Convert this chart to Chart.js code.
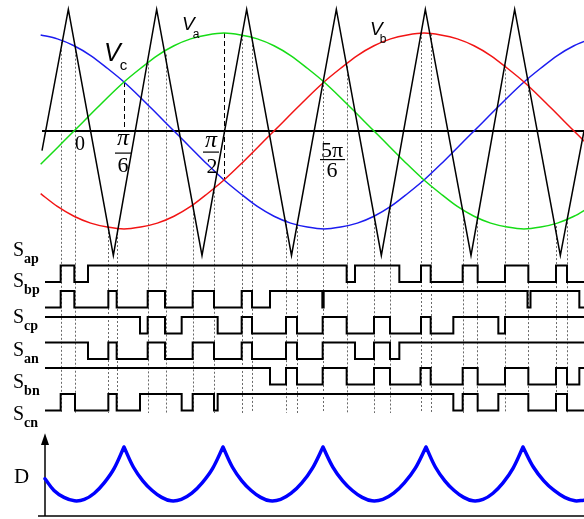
<!DOCTYPE html>
<html><head><meta charset="utf-8">
<script src="https://cdn.jsdelivr.net/npm/chart.js@4/dist/chart.umd.min.js"></script>
<style>html,body{margin:0;padding:0;background:#fff;overflow:hidden}</style>
</head><body>
<canvas id="c" width="584" height="519"></canvas>
<script>
// ---- data (angles in electrical degrees, theta = 0 at the "0" mark) ----
const thetaDeg = [-20,-10,0,10,20,30,40,50,60,70,80,90,100,110,120,130,140,150,160,170,180,190,200,210,220,230,240,250,260,270,280,290,300,310];
const va = [-0.34,-0.17,0,0.17,0.34,0.5,0.64,0.77,0.87,0.94,0.98,1,0.98,0.94,0.87,0.77,0.64,0.5,0.34,0.17,0,-0.17,-0.34,-0.5,-0.64,-0.77,-0.87,-0.94,-0.98,-1,-0.98,-0.94,-0.87,-0.77];
const vb = [-0.64,-0.77,-0.87,-0.94,-0.98,-1,-0.98,-0.94,-0.87,-0.77,-0.64,-0.5,-0.34,-0.17,0,0.17,0.34,0.5,0.64,0.77,0.87,0.94,0.98,1,0.98,0.94,0.87,0.77,0.64,0.5,0.34,0.17,0,-0.17];
const vc = [0.98,0.94,0.87,0.77,0.64,0.5,0.34,0.17,0,-0.17,-0.34,-0.5,-0.64,-0.77,-0.87,-0.94,-0.98,-1,-0.98,-0.94,-0.87,-0.77,-0.64,-0.5,-0.34,-0.17,0,0.17,0.34,0.5,0.64,0.77,0.87,0.94];

const carrierDeg = [-19.2,-3.4,23.6,49.6,76.8,103.6,130.5,157.4,184.4,210.8,238.2,264.4,291.8,306.0];
const carrierVal = [-0.2,1.24,-1.27,1.24,-1.27,1.24,-1.27,1.24,-1.27,1.24,-1.27,1.24,-1.27,0.0];

// dotted projection lines: angle and the curve value where they start
const guideDeg = [-8.0,0.6,20.6,25.6,44.2,55.0,71.2,84.0,100.6,106.6,127.2,133.8,149.2,163.6,180.2,189.6,208.2,214.0,233.2,242.0,258.6,272.6,289.2,296.0];
const guideTop = [0.91,0.86,-0.99,-1.0,0.69,0.78,-0.76,-0.62,0.98,0.96,-0.91,-0.98,0.51,0.66,-0.9,-0.74,1.0,0.99,-0.82,-0.89,0.67,0.54,-0.97,-0.89];

// dashed marks at pi/6 and pi/2
const markDeg = [30, 90];
const markFrom = [0.5, 1.0];
const markTo = [0, -0.5];

// switching signals: initial level and toggle angles
const signalNames = ['ap','bp','cp','an','bn','cn'];
const signalStart = [0,0,1,1,1,0];
const sapToggles = [-8.0,0.2,8.4,163.6,168.6,195.2,208.2,214.0,233.2,242.2,258.6,272.6,289.2,295.8];
const sbpToggles = [-8.0,0.2,20.6,25.6,44.2,54.6,71.2,84.0,100.6,106.8,117.6,149.0,149.8,272.1,273.9,303.2];
const scpToggles = [39.6,44.2,54.6,64.6,86.2,100.6,106.8,127.2,133.8,149.2,163.6,180.0,189.6,208.2,214.0,227.6,254.6,258.6];
const sanToggles = [8.4,20.6,25.6,44.2,54.6,71.2,84.0,100.6,106.8,127.2,133.8,149.2,168.6,180.0,189.6,195.2];
const sbnToggles = [117.6,127.2,133.8,149.2,163.6,180.0,189.6,207.9,214.0,233.2,242.2,258.6,272.6,289.2,295.8,303.2];
const scnToggles = [-8.0,0.6,20.6,25.6,39.6,64.6,71.2,84.0,86.2,227.6,233.2,242.2,254.6,272.6,289.2,295.8];
const signalToggles = [sapToggles,sbpToggles,scpToggles,sanToggles,sbnToggles,scnToggles];
const signalFrom = -17.4, signalTo = 306;

// D curve (null splits the curve at the cusps)
const dDeg = [-17.4,-12.0,-6.0,0.3,6.2,12.2,18.1,24.1,30.0, 30.0, 30.0,35.6,41.3,46.9,52.6,58.2,64.4,70.7,76.9,83.2,89.4, 89.4, 89.4,95.0,100.7,106.3,112.0,117.6,124.0,130.3,136.7,143.0,149.4, 149.4, 149.4,155.3,161.2,167.0,172.9,178.8,185.3,191.8,198.2,204.7,211.2, 211.2, 211.2,216.8,222.5,228.1,233.8,239.4,245.4,251.4,257.4,263.4,269.4, 269.4, 269.4,275.6,281.9,288.1,294.4,300.6,306.0];
const dVal = [0.54,0.37,0.27,0.22,0.24,0.33,0.48,0.69,1.0, null, 1.0,0.71,0.51,0.37,0.27,0.22,0.24,0.33,0.48,0.69,1.0, null, 1.0,0.71,0.51,0.37,0.27,0.22,0.24,0.33,0.48,0.69,1.0, null, 1.0,0.71,0.51,0.37,0.27,0.22,0.24,0.33,0.48,0.69,1.0, null, 1.0,0.71,0.51,0.37,0.27,0.22,0.24,0.33,0.48,0.69,1.0, null, 1.0,0.71,0.51,0.37,0.27,0.22,0.23];

// ---- layout helpers ----
const H = 519;
function band(zeroPx, unitPx){ return {type:'linear', display:false, bounds:'data', min:(zeroPx-H)/unitPx, max:zeroPx/unitPx}; }
const sigLow = [282, 307.5, 333.5, 359, 384.5, 410.5];
const sigAxes = ['ySap','ySbp','yScp','ySan','ySbn','yScn'];

const pts = (xs, ys) => xs.map((x,i)=>({x, y: ys[i]}));
function stepData(start, toggles){
  let lv = start; const d = [{x:signalFrom, y:lv}];
  toggles.forEach(t => { lv = 1 - lv; d.push({x:t, y:lv}); });
  d.push({x:signalTo, y:lv});
  return d;
}

const datasets = [
  {data: pts(carrierDeg, carrierVal), yAxisID:'yV', borderColor:'#000', borderWidth:1.5, tension:0},
  {data: pts(thetaDeg, va), yAxisID:'yV', borderColor:'#16dc16', borderWidth:1.5, tension:0.3},
  {data: pts(thetaDeg, vb), yAxisID:'yV', borderColor:'#f21414', borderWidth:1.5, tension:0.3},
  {data: pts(thetaDeg, vc), yAxisID:'yV', borderColor:'#1c1cf0', borderWidth:1.5, tension:0.3},
  {data: pts(dDeg, dVal), yAxisID:'yD', borderColor:'#0000ff', borderWidth:3.5, tension:0.35, spanGaps:false, borderCapStyle:'round', borderJoinStyle:'round'}
];
signalToggles.forEach((tg,i) => datasets.push({data: stepData(signalStart[i], tg), yAxisID: sigAxes[i], borderColor:'#000', borderWidth:2, stepped:true, tension:0}));
datasets.forEach(d => { d.showLine = true; d.pointRadius = 0; d.pointHoverRadius = 0; d.fill = false; });

const scales = { x: {type:'linear', display:false, bounds:'data', min:-44.4, max:306}, yV: band(131, 98), yD: band(516, 69) };
sigAxes.forEach((id,i) => scales[id] = band(sigLow[i], 16.5));

function sub(ctx, main, mainFont, s, subFont, x, y, dx, dy){
  ctx.font = mainFont; ctx.fillText(main, x, y);
  const w = ctx.measureText(main).width;
  ctx.font = subFont; ctx.fillText(s, x + w + dx, y + dy);
}

const decor = {
  id:'decor',
  beforeDatasetsDraw(chart){
    const {ctx, scales:s} = chart;
    ctx.save();
    // projection guides
    ctx.strokeStyle = '#6a6a6a'; ctx.lineWidth = 1; ctx.setLineDash([2,2]);
    const yBottom = s.yScn.getPixelForValue(-0.15);
    guideDeg.forEach((d,i) => {
      const px = Math.round(s.x.getPixelForValue(d)) + 0.5;
      ctx.beginPath(); ctx.moveTo(px, s.yV.getPixelForValue(guideTop[i])); ctx.lineTo(px, yBottom); ctx.stroke();
    });
    // dashed marks
    ctx.strokeStyle = '#000'; ctx.setLineDash([5,3]);
    markDeg.forEach((d,i) => {
      const px = Math.round(s.x.getPixelForValue(d)) + 0.5;
      ctx.beginPath(); ctx.moveTo(px, s.yV.getPixelForValue(markFrom[i])); ctx.lineTo(px, s.yV.getPixelForValue(markTo[i])); ctx.stroke();
    });
    ctx.setLineDash([]);
    // theta axis of the top plot
    ctx.lineWidth = 2;
    ctx.beginPath(); ctx.moveTo(s.x.getPixelForValue(-19.2), s.yV.getPixelForValue(0)); ctx.lineTo(s.x.getPixelForValue(306), s.yV.getPixelForValue(0)); ctx.stroke();
    // D axes
    ctx.lineWidth = 1.5;
    const ax = s.x.getPixelForValue(-17.4);
    ctx.beginPath(); ctx.moveTo(ax, s.yD.getPixelForValue(0)); ctx.lineTo(ax, s.yD.getPixelForValue(1.05)); ctx.stroke();
    ctx.beginPath(); ctx.moveTo(s.x.getPixelForValue(-21.6), s.yD.getPixelForValue(0)); ctx.lineTo(s.x.getPixelForValue(306), s.yD.getPixelForValue(0)); ctx.stroke();
    ctx.fillStyle = '#000';
    ctx.beginPath();
    ctx.moveTo(ax, s.yD.getPixelForValue(1.2));
    ctx.lineTo(ax - 4, s.yD.getPixelForValue(1.03));
    ctx.lineTo(ax + 4, s.yD.getPixelForValue(1.03));
    ctx.closePath(); ctx.fill();
    ctx.restore();
  },
  afterDatasetsDraw(chart){
    const {ctx} = chart;
    ctx.save();
    ctx.fillStyle = '#000'; ctx.textBaseline = 'alphabetic'; ctx.textAlign = 'left';
    // phase labels
    sub(ctx, 'V', 'italic 25px "Liberation Sans"', 'c', '15px "Liberation Sans"', 104, 61, -1, 9);
    sub(ctx, 'V', 'italic 19px "Liberation Sans"', 'a', '12px "Liberation Sans"', 182, 30, -2, 8);
    sub(ctx, 'V', 'italic 19px "Liberation Sans"', 'b', '12px "Liberation Sans"', 370, 35, -3, 8);
    // angle labels
    ctx.font = '20px "Liberation Serif"'; ctx.fillText('0', 75, 150);
    ctx.textAlign = 'center';
    ctx.font = 'italic 24px "Liberation Serif"'; ctx.fillText('\u03c0', 123, 145); ctx.fillText('\u03c0', 211, 147);
    ctx.font = '22px "Liberation Serif"'; ctx.fillText('6', 123, 172); ctx.fillText('2', 212, 173);
    ctx.fillText('5\u03c0', 332, 157); ctx.fillText('6', 332, 177);
    ctx.fillRect(115, 152.5, 17, 1.2); ctx.fillRect(203, 151.5, 16, 1.2); ctx.fillRect(320, 159, 25, 1.2);
    // switch labels
    ctx.textAlign = 'left';
    const sBase = [256, 287, 323, 356, 388, 420];
    signalNames.forEach((n,i) => sub(ctx, 'S', '20px "Liberation Serif"', n, 'bold 14px "Liberation Serif"', 13, sBase[i], 0, 7));
    ctx.font = '21px "Liberation Serif"'; ctx.fillText('D', 14, 483);
    ctx.restore();
  }
};

new Chart(document.getElementById('c'), {
  type:'scatter',
  data:{datasets},
  options:{responsive:false, animation:false, events:[], layout:{padding:0},
    plugins:{legend:{display:false}, tooltip:{enabled:false}},
    scales},
  plugins:[decor]
});
</script>
</body></html>
